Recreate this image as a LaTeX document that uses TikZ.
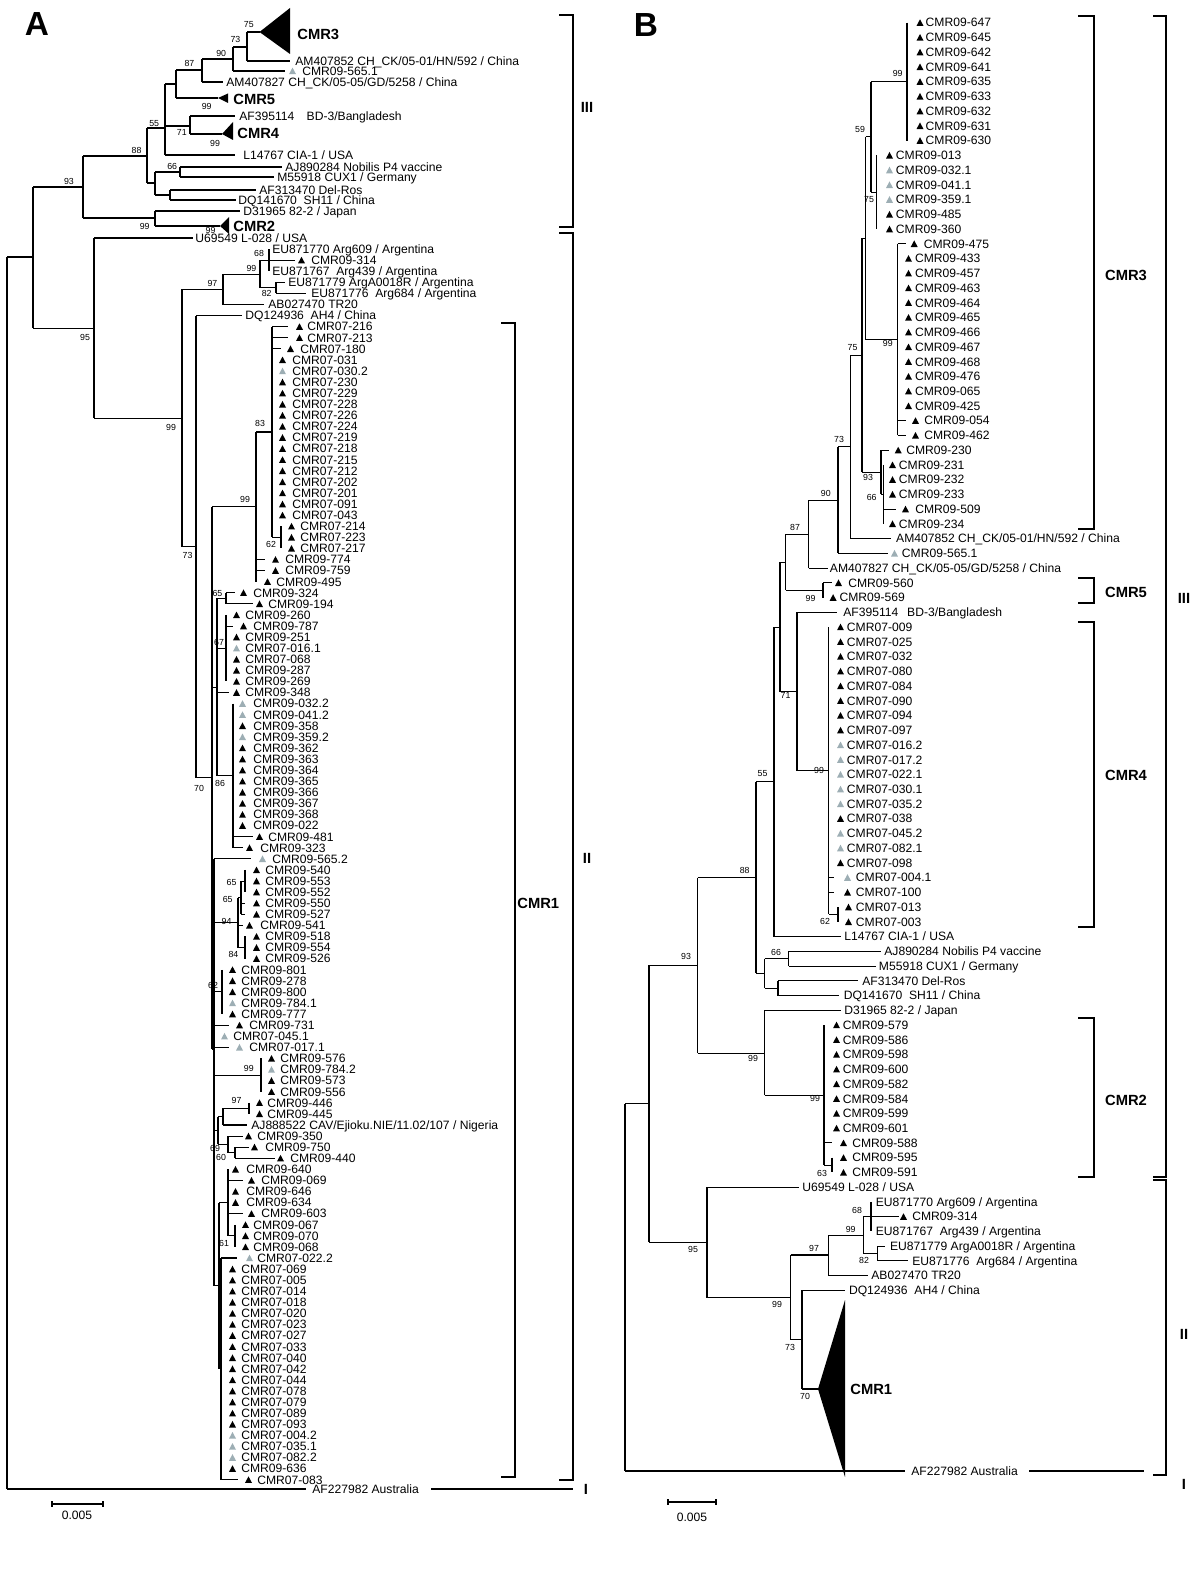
\documentclass[tikz,border=0pt]{standalone}
\usepackage{fontspec}
\setmainfont{Liberation Sans}
\usetikzlibrary{positioning}

\definecolor{tipgray}{HTML}{9DAEB4}
\colorlet{tk}{black}
\colorlet{tg}{tipgray}

\newcount\tipno
\newcount\bsno
% row positions of the two panels (picture units are pixels, y downwards)
\newcommand{\ya}[1]{238+11.087*(#1)}
\newcommand{\yb}[1]{22.7+14.74*(#1)}

% a branch ending in an inner node: parent x, node x, stem y, top y, bottom y
\newcommand{\clade}[5]{\draw[br] (#1,{#3}) -- (#2,{#3}) (#2,{#4}) -- (#2,{#5});}
% a plain branch
\newcommand{\twig}[3]{\draw[br] (#1,{#3}) -- (#2,{#3});}
% sampled isolate: [colour]{triangle x}{y}{text x}{name}
\newcommand{\leaftip}[5][tk]{%
  \fill[#1] ({#2},{#3+3.2}) -- ({#2+7},{#3+3.2}) -- ({#2+3.5},{#3-3.4}) -- cycle;
  \global\advance\tipno by 1
  \node[lbl] (tip\the\tipno) at ({#4},{#3+4.3}) {#5};}
% reference strain: {text x}{y}{name}
\newcommand{\strain}[3]{%
  \global\advance\tipno by 1
  \node[lbl] (tip\the\tipno) at ({#1},{#2+4.3}) {#3};}
% bootstrap value
\newcommand{\bsv}[3]{%
  \global\advance\bsno by 1
  \node[boot] (bs\the\bsno) at ({#1},{#2}) {#3};}
% bracket: inner x, outer x, top y, bottom y
\newcommand{\bracket}[4]{\draw[brk] (#1,#3) -- (#2,#3) -- (#2,#4) -- (#1,#4);}

\begin{document}
\begin{tikzpicture}[
  x=0.02cm, y=-0.02cm,
  br/.style={line width=0.6pt},
  brk/.style={line width=0.85pt},
  lbl/.style={font=\fontsize{6.9}{8}\selectfont, anchor=base west, inner sep=0pt},
  boot/.style={font=\fontsize{5}{6}\selectfont, inner sep=0pt},
  grp/.style={font=\fontsize{8.4}{10}\selectfont\bfseries, inner sep=0pt},
  panel/.style={font=\fontsize{19}{22}\selectfont\bfseries, inner sep=0pt},
  scl/.style={font=\fontsize{6.9}{8}\selectfont, inner sep=0pt},
]
\useasboundingbox (0,0) rectangle (1200,1588);
\fill[white] (0,0) rectangle (1200,1588);

% ================================ panel A ====================================
\node[panel] (pA) at (37,24) {A};

% deep splits
\draw[br] (7,257) -- (7,1489);
\clade{7}{33}{257}{187}{{\ya{8.12}}}
\clade{33}{83}{187}{156}{218}
\clade{83}{147}{156}{128}{183}
\clade{147}{165}{128}{84}{155}
\clade{165}{176}{84}{70}{98}
\clade{176}{202}{70}{59}{82}
\clade{202}{233}{59}{47}{71}
\clade{233}{247}{47}{32}{61}
\twig{247}{259.5}{32}
\fill (259.5,32) -- (290,8) -- (290,54) -- cycle;
\node[grp, anchor=west] (cmr3a) at (297,34) {CMR3};
\twig{247}{290}{61}
\strain{295}{61}{AM407852 CH\_CK/05-01/HN/592 / China}
\twig{233}{285}{71}
\leaftip[tg]{289}{71}{302}{CMR09-565.1}
\twig{202}{223}{82}
\strain{226}{82}{AM407827 CH\_CK/05-05/GD/5258 / China}
\twig{176}{218}{98}
\fill (218,98) -- (228,93.5) -- (228,103) -- cycle;
\node[grp, anchor=west] (cmr5a) at (233,99) {CMR5};
\clade{165}{190}{126}{116}{134}
\twig{190}{235}{116}
\strain{239}{116}{AF395114\hspace{7pt}BD-3/Bangladesh}
\twig{190}{222}{134}
\fill (222,134) -- (233,122) -- (233,140) -- cycle;
\node[grp, anchor=west] (cmr4a) at (237,133) {CMR4};
\twig{165}{235}{155}
\strain{243}{155}{L14767 CIA-1 / USA}
\clade{147}{155}{183}{172}{195}
\clade{155}{180}{172}{167}{177}
\twig{180}{282}{167}
\strain{285}{167}{AJ890284 Nobilis P4 vaccine}
\twig{180}{274}{177}
\strain{277}{177}{M55918 CUX1 / Germany}
\clade{155}{170}{195}{190}{200}
\twig{170}{256}{190}
\strain{259}{190}{AF313470 Del-Ros}
\twig{170}{236}{200}
\strain{238}{200}{DQ141670\ \ SH11 / China}
\clade{83}{155}{218}{211}{226}
\twig{155}{240}{211}
\strain{243}{211}{D31965 82-2 / Japan}
\twig{155}{220}{226}
\fill (220,226) -- (229,217) -- (229,234) -- cycle;
\node[grp, anchor=west] (cmr2a) at (233,226) {CMR2};

% genotype II
\clade{33}{94}{{\ya{8.12}}}{{\ya{0}}}{{\ya{16.24}}}
\twig{94}{193}{\ya{0}}
\strain{195}{\ya{0}}{U69549 L-028 / USA}
\clade{94}{182}{{\ya{16.24}}}{{\ya{4.625}}}{{\ya{27.85}}}
\clade{182}{223}{{\ya{4.625}}}{{\ya{3.25}}}{{\ya{6}}}
\clade{223}{260}{{\ya{3.25}}}{{\ya{2}}}{{\ya{4.5}}}
\clade{260}{269}{{\ya{2}}}{{\ya{1}}}{{\ya{3}}}
\strain{272}{\ya{1}}{EU871770 Arg609 / Argentina}
\twig{269}{295}{\ya{2}}
\leaftip{298}{\ya{2}}{311}{CMR09-314}
\strain{272}{\ya{3}}{EU871767\ \ Arg439 / Argentina}
\clade{260}{276}{{\ya{4.5}}}{{\ya{4}}}{{\ya{5}}}
\twig{276}{285}{\ya{4}}
\strain{288}{\ya{4}}{EU871779 ArgA0018R / Argentina}
\twig{276}{306}{\ya{5}}
\strain{311}{\ya{5}}{EU871776\ \ Arg684 / Argentina}
\twig{223}{264}{\ya{6}}
\strain{268}{\ya{6}}{AB027470 TR20}
\clade{182}{196}{{\ya{27.85}}}{{\ya{7}}}{{\ya{48.7}}}
\twig{196}{242}{\ya{7}}
\strain{245}{\ya{7}}{DQ124936\ \ AH4 / China}

% CMR1
\clade{196}{212}{{\ya{48.7}}}{{\ya{24.25}}}{{\ya{73.15}}}
\clade{212}{256}{{\ya{24.25}}}{{\ya{17.5}}}{{\ya{31}}}
\clade{256}{272}{{\ya{17.5}}}{{\ya{8}}}{{\ya{27}}}
\twig{272}{288}{\ya{8}} \twig{272}{288}{\ya{9}} \twig{272}{281}{\ya{10}}
\foreach \r/\t in {8/CMR07-216, 9/CMR07-213} \leaftip{296}{\ya{\r}}{307}{\t};
\leaftip{287}{\ya{10}}{300}{CMR07-180}
\foreach \r/\t/\c in {11/CMR07-031/tk, 12/CMR07-030.2/tg, 13/CMR07-230/tk,
    14/CMR07-229/tk, 15/CMR07-228/tk, 16/CMR07-226/tk, 17/CMR07-224/tk,
    18/CMR07-219/tk, 19/CMR07-218/tk, 20/CMR07-215/tk, 21/CMR07-212/tk,
    22/CMR07-202/tk, 23/CMR07-201/tk, 24/CMR07-091/tk, 25/CMR07-043/tk}
  \leaftip[\c]{279}{\ya{\r}}{292}{\t};
\clade{272}{281}{{\ya{27}}}{{\ya{26}}}{{\ya{28}}}
\foreach \r/\t in {26/CMR07-214, 27/CMR07-223, 28/CMR07-217} \leaftip{288}{\ya{\r}}{300}{\t};
\twig{256}{265}{\ya{29}} \twig{256}{265}{\ya{30}}
\foreach \r/\t in {29/CMR09-774, 30/CMR09-759} \leaftip{272}{\ya{\r}}{285}{\t};
\leaftip{264}{\ya{31}}{276}{CMR09-495}

\clade{212}{217}{{\ya{40.5}}}{{\ya{32.5}}}{{\ya{48.5}}}
\clade{217}{226}{{\ya{32.5}}}{{\ya{32}}}{{\ya{33}}}
\twig{226}{235}{\ya{32}} \twig{226}{253}{\ya{33}}
\leaftip{240}{\ya{32}}{253}{CMR09-324}
\leaftip{256}{\ya{33}}{268}{CMR09-194}
\clade{217}{226}{{\ya{37}}}{{\ya{34}}}{{\ya{40}}}
\twig{226}{233}{\ya{35}}
\leaftip{240}{\ya{35}}{253}{CMR09-787}
\foreach \r/\t/\c in {34/CMR09-260/tk, 36/CMR09-251/tk, 37/CMR07-016.1/tg,
    38/CMR07-068/tk, 39/CMR09-287/tk, 40/CMR09-269/tk}
  \leaftip[\c]{233}{\ya{\r}}{245}{\t};
\twig{217}{229}{\ya{41}}
\leaftip{233}{\ya{41}}{245}{CMR09-348}
\clade{217}{233}{{\ya{48.5}}}{{\ya{42}}}{{\ya{55}}}
\foreach \r/\t/\c in {42/CMR09-032.2/tg, 43/CMR09-041.2/tg, 44/CMR09-358/tk,
    45/CMR09-359.2/tg, 46/CMR09-362/tk, 47/CMR09-363/tk, 48/CMR09-364/tk,
    49/CMR09-365/tk, 50/CMR09-366/tk, 51/CMR09-367/tk, 52/CMR09-368/tk,
    53/CMR09-022/tk}
  \leaftip[\c]{239}{\ya{\r}}{253}{\t};
\twig{233}{253}{\ya{54}} \twig{233}{243}{\ya{55}}
\leaftip{256}{\ya{54}}{268}{CMR09-481}
\leaftip{246}{\ya{55}}{260}{CMR09-323}

\clade{212}{214}{{\ya{73.15}}}{{\ya{56}}}{{\ya{94.5}}}
\twig{214}{251}{\ya{56}}
\leaftip[tg]{259}{\ya{56}}{272}{CMR09-565.2}
\clade{214}{238}{{\ya{61.75}}}{{\ya{59.5}}}{{\ya{64}}}
\clade{238}{241}{{\ya{59.5}}}{{\ya{58}}}{{\ya{61}}}
\clade{241}{245}{{\ya{58}}}{{\ya{57}}}{{\ya{59}}}
\twig{241}{245}{\ya{60}} \twig{241}{245}{\ya{61}}
\twig{238}{243}{\ya{62}}
\clade{238}{245}{{\ya{64}}}{{\ya{63}}}{{\ya{65}}}
\foreach \r/\t in {57/CMR09-540, 58/CMR09-553, 59/CMR09-552, 60/CMR09-550,
    61/CMR09-527, 63/CMR09-518, 64/CMR09-554, 65/CMR09-526}
  \leaftip{253}{\ya{\r}}{265}{\t};
\leaftip{246}{\ya{62}}{260}{CMR09-541}
\clade{214}{222}{{\ya{68}}}{{\ya{66}}}{{\ya{70}}}
\foreach \r/\t/\c in {66/CMR09-801/tk, 67/CMR09-278/tk, 68/CMR09-800/tk,
    69/CMR09-784.1/tg, 70/CMR09-777/tk}
  \leaftip[\c]{229}{\ya{\r}}{241}{\t};
\twig{214}{229}{\ya{71}} \twig{214}{229}{\ya{73}}
\leaftip{236}{\ya{71}}{249}{CMR09-731}
\leaftip[tg]{221}{\ya{72}}{233}{CMR07-045.1}
\leaftip[tg]{236}{\ya{73}}{249}{CMR07-017.1}
\clade{214}{261}{{\ya{75.5}}}{{\ya{74}}}{{\ya{77}}}
\foreach \r/\t/\c in {74/CMR09-576/tk, 75/CMR09-784.2/tg, 76/CMR09-573/tk, 77/CMR09-556/tk}
  \leaftip[\c]{268}{\ya{\r}}{280}{\t};
\clade{214}{218}{{\ya{80.5}}}{{\ya{79.25}}}{{\ya{81.75}}}
\clade{218}{223}{{\ya{79.25}}}{{\ya{78.5}}}{{\ya{80}}}
\clade{223}{249}{{\ya{78.5}}}{{\ya{78}}}{{\ya{79}}}
\foreach \r/\t in {78/CMR09-446, 79/CMR09-445} \leaftip{256}{\ya{\r}}{267}{\t};
\twig{223}{247}{\ya{80}}
\strain{251}{\ya{80}}{AJ888522 CAV/Ejioku.NIE/11.02/107 / Nigeria}
\clade{218}{228}{{\ya{81.75}}}{{\ya{81}}}{{\ya{82.5}}}
\twig{228}{243}{\ya{81}}
\leaftip{245}{\ya{81}}{257}{CMR09-350}
\clade{228}{235}{{\ya{82.5}}}{{\ya{82}}}{{\ya{83}}}
\twig{235}{249}{\ya{82}} \twig{235}{275}{\ya{83}}
\leaftip{251}{\ya{82}}{265}{CMR09-750}
\leaftip{277}{\ya{83}}{290}{CMR09-440}
\clade{214}{219}{{\ya{94.5}}}{{\ya{87}}}{{\ya{102}}}
\clade{219}{228}{{\ya{87}}}{{\ya{84}}}{{\ya{90}}}
\foreach \r/\t in {84/CMR09-640, 86/CMR09-646, 87/CMR09-634} \leaftip{232}{\ya{\r}}{246}{\t};
\twig{228}{243}{\ya{85}} \twig{228}{243}{\ya{88}}
\foreach \r/\t in {85/CMR09-069, 88/CMR09-603} \leaftip{248}{\ya{\r}}{261}{\t};
\clade{228}{235}{{\ya{90}}}{{\ya{89}}}{{\ya{91}}}
\foreach \r/\t in {89/CMR09-067, 90/CMR09-070, 91/CMR09-068} \leaftip{242}{\ya{\r}}{253}{\t};
\clade{219}{221}{{\ya{102}}}{{\ya{92}}}{{\ya{112}}}
\twig{221}{237}{\ya{92}} \twig{221}{238}{\ya{112}}
\leaftip[tg]{246}{\ya{92}}{257}{CMR07-022.2}
\foreach \r/\t/\c in {93/CMR07-069/tk, 94/CMR07-005/tk, 95/CMR07-014/tk,
    96/CMR07-018/tk, 97/CMR07-020/tk, 98/CMR07-023/tk, 99/CMR07-027/tk,
    100/CMR07-033/tk, 101/CMR07-040/tk, 102/CMR07-042/tk, 103/CMR07-044/tk,
    104/CMR07-078/tk, 105/CMR07-079/tk, 106/CMR07-089/tk, 107/CMR07-093/tk,
    108/CMR07-004.2/tg, 109/CMR07-035.1/tg, 110/CMR07-082.2/tg, 111/CMR09-636/tk}
  \leaftip[\c]{229}{\ya{\r}}{241}{\t};
\leaftip{245}{\ya{112}}{257}{CMR07-083}

% outgroup and scale
\draw[br] (7,1489) -- (306,1489) (431,1489) -- (573,1489);
\strain{312}{1489}{AF227982 Australia}
\draw[br] (52,1501) -- (52,1507) (52,1504) -- (103,1504) (103,1501) -- (103,1507);
\node[scl] (scaleA) at (77,1515) {0.005};

% bootstrap values
\foreach \x/\y/\v in {248.8/25/75, 235.4/39/73, 221.2/53/90, 189.4/63/87,
    206.7/106/99, 154.2/124/55, 181.8/132/71, 215/143/99, 136.6/150/88,
    172.2/166/66, 68.9/181/93, 144.7/226/99, 210.5/230/99,
    85/337/95, 259/253/68, 251.4/268/99, 212.4/283/97, 266.7/293/82,
    171/427/99, 260/423/83, 245/499/99, 187.5/555/73, 271/544/62,
    217.4/593/65, 219/642/67, 220/783/86, 199/788/70, 231.5/882/65,
    227.7/899/65, 226.6/921/94, 233.4/954/84, 213/985/62, 248.8/1068/99,
    236.5/1100/97, 215/1148/69, 221/1157/60, 224/1243/61}
  \bsv{\x}{\y}{\v};

% genotype brackets
\bracket{501}{515}{323}{1477}
\node[grp, anchor=west] (cmr1a) at (517,903) {CMR1};
\bracket{559}{573}{15}{227}
\node[grp] (g3a) at (587,107) {III};
\bracket{559}{573}{233}{1480}
\node[grp] (g2a) at (587,858) {II};
\node[grp] (g1a) at (586,1489) {I};

% ================================ panel B ====================================
\node[panel] (pB) at (646,25) {B};

\draw[br] (625,{\yb{73.35}}) -- (625,1471);
\clade{625}{649}{{\yb{73.35}}}{{\yb{63.95}}}{{\yb{82.75}}}
\clade{649}{697.6}{{\yb{63.95}}}{{\yb{58}}}{{\yb{69.9}}}
\clade{697.6}{756}{{\yb{58}}}{{\yb{51.5}}}{{\yb{64.5}}}
\clade{756}{774}{{\yb{51.5}}}{{\yb{41}}}{{\yb{62}}}
\clade{774}{780}{{\yb{41}}}{{\yb{36.6}}}{{\yb{45.4}}}
\clade{780}{785.6}{{\yb{36.6}}}{{\yb{34.7}}}{{\yb{38.5}}}
\clade{785.6}{808.6}{{\yb{34.7}}}{{\yb{32.39}}}{{\yb{37}}}
\clade{808.6}{838}{{\yb{32.39}}}{{\yb{28.78}}}{{\yb{36}}}
\clade{838}{850.7}{{\yb{28.78}}}{{\yb{22.56}}}{{\yb{35}}}
\clade{850.7}{862}{{\yb{22.56}}}{{\yb{14.625}}}{{\yb{30.5}}}
\clade{862}{865.5}{{\yb{14.625}}}{{\yb{7.75}}}{{\yb{21.5}}}
\clade{865.5}{871}{{\yb{7.75}}}{{\yb{4}}}{{\yb{11.5}}}

% CMR3
\clade{871}{907}{{\yb{4}}}{{\yb{0}}}{{\yb{8}}}
\foreach \r/\t in {0/CMR09-647, 1/CMR09-645, 2/CMR09-642, 3/CMR09-641,
    4/CMR09-635, 5/CMR09-633, 6/CMR09-632, 7/CMR09-631, 8/CMR09-630}
  \leaftip{916.5}{\yb{\r}}{925.3}{\t};
\clade{871}{876.7}{{\yb{11.5}}}{{\yb{9}}}{{\yb{14}}}
\foreach \r/\t/\c in {9/CMR09-013/tk, 10/CMR09-032.1/tg, 11/CMR09-041.1/tg,
    12/CMR09-359.1/tg, 13/CMR09-485/tk, 14/CMR09-360/tk}
  \leaftip[\c]{886}{\yb{\r}}{895.6}{\t};
\clade{865.5}{897.7}{{\yb{21.5}}}{{\yb{15}}}{{\yb{28}}}
\twig{897.7}{906}{\yb{15}} \twig{897.7}{906}{\yb{27}} \twig{897.7}{906}{\yb{28}}
\leaftip{910.7}{\yb{15}}{923.4}{CMR09-475}
\foreach \r/\t in {16/CMR09-433, 17/CMR09-457, 18/CMR09-463, 19/CMR09-464,
    20/CMR09-465, 21/CMR09-466, 22/CMR09-467, 23/CMR09-468, 24/CMR09-476,
    25/CMR09-065, 26/CMR09-425}
  \leaftip{905}{\yb{\r}}{914.7}{\t};
\foreach \r/\t in {27/CMR09-054, 28/CMR09-462} \leaftip{912}{\yb{\r}}{924}{\t};
\clade{862}{881}{{\yb{30.5}}}{{\yb{29}}}{{\yb{32}}}
\twig{881}{889}{\yb{29}}
\leaftip{894.7}{\yb{29}}{906}{CMR09-230}
\clade{881}{883.5}{{\yb{32}}}{{\yb{30}}}{{\yb{34}}}
\foreach \r/\t in {30/CMR09-231, 31/CMR09-232, 32/CMR09-233, 34/CMR09-234}
  \leaftip{889}{\yb{\r}}{898.6}{\t};
\twig{883.5}{896}{\yb{33}}
\leaftip{902}{\yb{33}}{915}{CMR09-509}
\twig{850.7}{891}{\yb{35}}
\strain{895.8}{\yb{35}}{AM407852 CH\_CK/05-01/HN/592 / China}
\twig{838}{888}{\yb{36}}
\leaftip[tg]{891}{\yb{36}}{901.6}{CMR09-565.1}
\twig{808.6}{827.7}{\yb{37}}
\strain{829.6}{\yb{37}}{AM407827 CH\_CK/05-05/GD/5258 / China}

% CMR5 and CMR4
\clade{785.6}{823}{{\yb{38.5}}}{{\yb{38}}}{{\yb{39}}}
\twig{823}{831.5}{\yb{38}}
\leaftip{835}{\yb{38}}{848}{CMR09-560}
\leaftip{829.6}{\yb{39}}{839.2}{CMR09-569}
\clade{780}{797}{{\yb{45.4}}}{{\yb{40}}}{{\yb{50.75}}}
\twig{797}{837}{\yb{40}}
\strain{843}{\yb{40}}{AF395114\hspace{5pt}BD-3/Bangladesh}
\clade{797}{828.9}{{\yb{50.75}}}{{\yb{41}}}{{\yb{60.5}}}
\foreach \r/\t/\c in {41/CMR07-009/tk, 42/CMR07-025/tk, 43/CMR07-032/tk,
    44/CMR07-080/tk, 45/CMR07-084/tk, 46/CMR07-090/tk, 47/CMR07-094/tk,
    48/CMR07-097/tk, 49/CMR07-016.2/tg, 50/CMR07-017.2/tg, 51/CMR07-022.1/tg,
    52/CMR07-030.1/tg, 53/CMR07-035.2/tg, 54/CMR07-038/tk, 55/CMR07-045.2/tg,
    56/CMR07-082.1/tg, 57/CMR07-098/tk}
  \leaftip[\c]{837}{\yb{\r}}{846.6}{\t};
\twig{828.9}{834}{\yb{58}} \twig{828.9}{834}{\yb{59}}
\leaftip[tg]{844}{\yb{58}}{855.6}{CMR07-004.1}
\leaftip{844}{\yb{59}}{855.6}{CMR07-100}
\clade{828.9}{838}{{\yb{60.5}}}{{\yb{60}}}{{\yb{61}}}
\foreach \r/\t in {60/CMR07-013, 61/CMR07-003} \leaftip{845}{\yb{\r}}{855.6}{\t};
\twig{774}{841}{\yb{62}}
\strain{844}{\yb{62}}{L14767 CIA-1 / USA}

% other genotype III strains
\clade{756}{764.6}{{\yb{64.5}}}{{\yb{63.5}}}{{\yb{65.5}}}
\clade{764.6}{788.7}{{\yb{63.5}}}{{\yb{63}}}{{\yb{64}}}
\twig{788.7}{881}{\yb{63}}
\strain{884}{\yb{63}}{AJ890284 Nobilis P4 vaccine}
\twig{788.7}{875.5}{\yb{64}}
\strain{878.6}{\yb{64}}{M55918 CUX1 / Germany}
\clade{764.6}{778}{{\yb{65.5}}}{{\yb{65}}}{{\yb{66}}}
\twig{778}{858}{\yb{65}}
\strain{862}{\yb{65}}{AF313470 Del-Ros}
\twig{778}{839}{\yb{66}}
\strain{843.4}{\yb{66}}{DQ141670\ \ SH11 / China}

% CMR2
\clade{697.6}{764.6}{{\yb{69.9}}}{{\yb{67}}}{{\yb{72.75}}}
\twig{764.6}{841}{\yb{67}}
\strain{844}{\yb{67}}{D31965 82-2 / Japan}
\clade{764.6}{824}{{\yb{72.75}}}{{\yb{68}}}{{\yb{77.5}}}
\foreach \r/\t in {68/CMR09-579, 69/CMR09-586, 70/CMR09-598, 71/CMR09-600,
    72/CMR09-582, 73/CMR09-584, 74/CMR09-599, 75/CMR09-601}
  \leaftip{833}{\yb{\r}}{842.6}{\t};
\twig{824}{831.5}{\yb{76}}
\clade{824}{832}{{\yb{77.5}}}{{\yb{77}}}{{\yb{78}}}
\foreach \r/\t in {76/CMR09-588, 77/CMR09-595, 78/CMR09-591} \leaftip{840}{\yb{\r}}{852}{\t};

% genotype II
\clade{649}{707}{{\yb{82.75}}}{{\yb{79}}}{{\yb{86.5}}}
\twig{707}{799}{\yb{79}}
\strain{802}{\yb{79}}{U69549 L-028 / USA}
\clade{707}{790.6}{{\yb{86.5}}}{{\yb{83.6}}}{{\yb{89.35}}}
\clade{790.6}{828.5}{{\yb{83.6}}}{{\yb{82.25}}}{{\yb{85}}}
\clade{828.5}{863.3}{{\yb{82.25}}}{{\yb{81}}}{{\yb{83.5}}}
\clade{863.3}{871}{{\yb{81}}}{{\yb{80}}}{{\yb{82}}}
\strain{875.5}{\yb{80}}{EU871770 Arg609 / Argentina}
\twig{871}{898.5}{\yb{81}}
\leaftip{900}{\yb{81}}{912}{CMR09-314}
\strain{875.5}{\yb{82}}{EU871767\ \ Arg439 / Argentina}
\clade{863.3}{877.5}{{\yb{83.5}}}{{\yb{83}}}{{\yb{84}}}
\twig{877.5}{885}{\yb{83}}
\strain{889.7}{\yb{83}}{EU871779 ArgA0018R / Argentina}
\twig{877.5}{908}{\yb{84}}
\strain{912}{\yb{84}}{EU871776\ \ Arg684 / Argentina}
\twig{828.5}{868}{\yb{85}}
\strain{871}{\yb{85}}{AB027470 TR20}
\clade{790.6}{802}{{\yb{89.35}}}{{\yb{86}}}{1389}
\twig{802}{845}{\yb{86}}
\strain{848.7}{\yb{86}}{DQ124936\ \ AH4 / China}
\twig{802}{818}{1389}
\fill (818,1389) -- (845,1300) -- (845,1477) -- cycle;
\node[grp, anchor=west] (cmr1b) at (850,1389) {CMR1};

% outgroup and scale
\draw[br] (625,1471) -- (905,1471) (1029,1471) -- (1144,1471);
\strain{911}{1471}{AF227982 Australia}
\draw[br] (668,1499) -- (668,1505) (668,1502) -- (716,1502) (716,1499) -- (716,1505);
\node[scl] (scaleB) at (692,1517) {0.005};

% bootstrap values
\foreach \x/\y/\v in {897.7/73/99, 860/129/59, 869/200/75, 887.8/343/99,
    852.6/348/75, 868/477/93, 871.7/497/66, 839/439/73, 825.8/493/90,
    795/527/87, 810.5/598/99, 785.6/695/71, 819/770/99, 825/921/62,
    762.6/774/55, 744.7/870/88, 776/952/66, 686/956/93, 753/1058/99,
    815/1098/99, 822/1173/63, 693/1249/95, 814/1248/97, 850.7/1229/99,
    857/1210/68, 864/1260/82, 777/1304/99, 790/1347/73, 805/1396/70}
  \bsv{\x}{\y}{\v};

% genotype brackets
\bracket{1078}{1094}{16}{529}
\node[grp] (cmr3b) at (1126,275) {CMR3};
\bracket{1078}{1094}{578}{603}
\node[grp] (cmr5b) at (1126,592) {CMR5};
\bracket{1078}{1094}{622}{927}
\node[grp] (cmr4b) at (1126,775) {CMR4};
\bracket{1078}{1094}{1018}{1177}
\node[grp] (cmr2b) at (1126,1100) {CMR2};
\bracket{1153}{1166}{16}{1177}
\node[grp] (g3b) at (1184,598) {III};
\bracket{1153}{1166}{1180}{1475}
\node[grp] (g2b) at (1184,1334) {II};
\node[grp] (g1b) at (1184,1484) {I};
\end{tikzpicture}
\end{document}
